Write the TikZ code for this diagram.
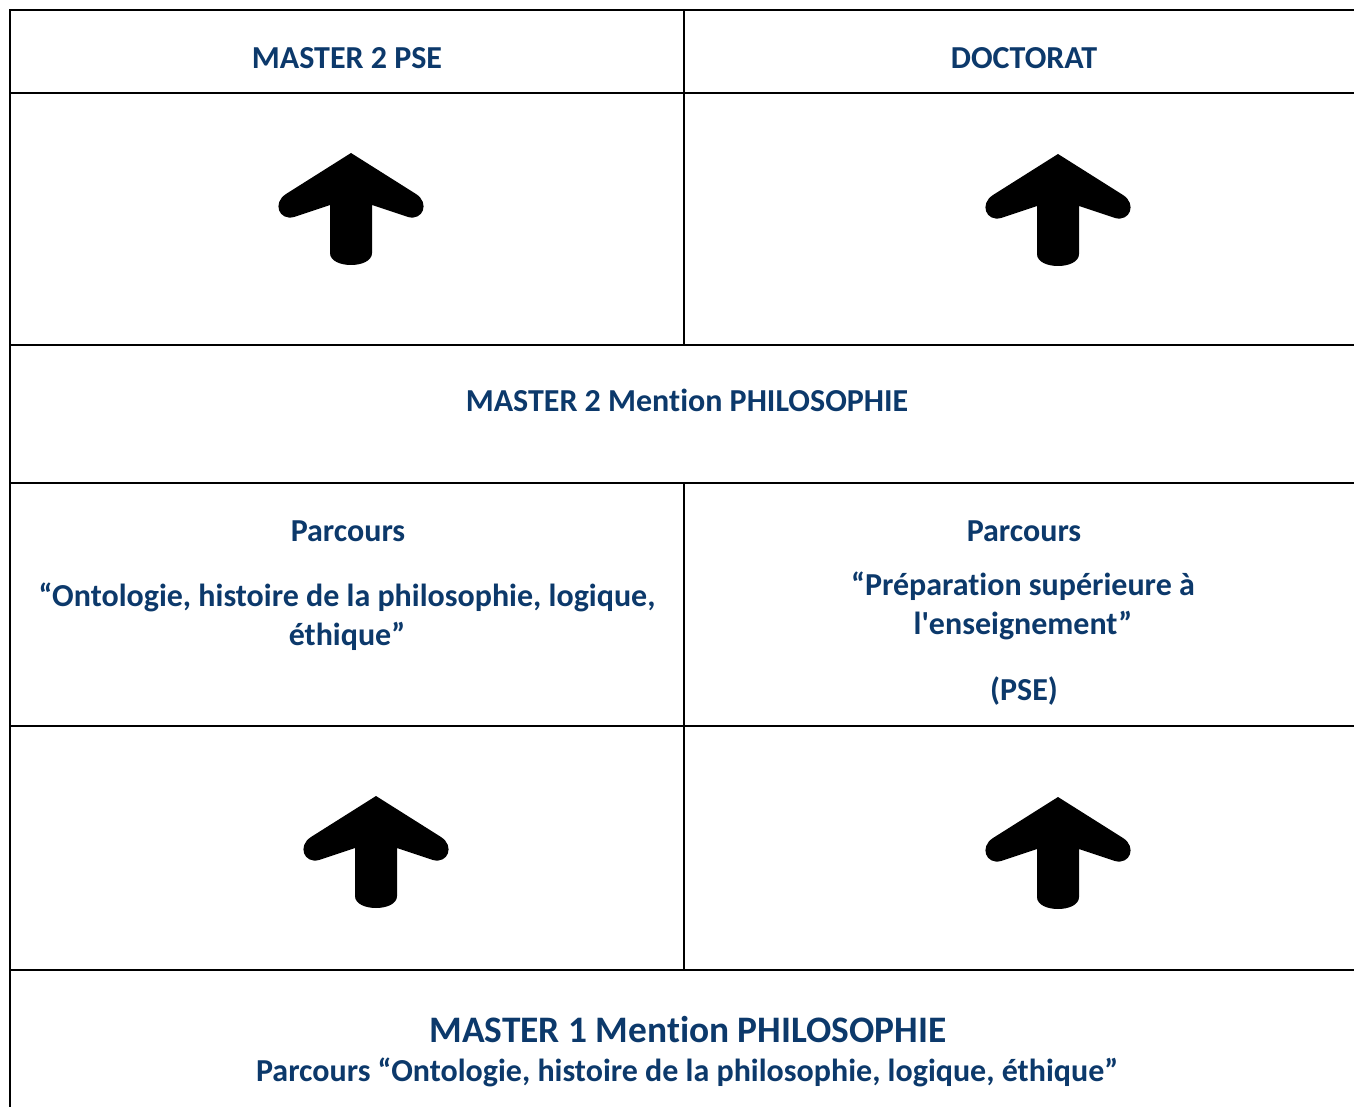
\documentclass[tikz,border=0pt]{standalone}
\usepackage{fontspec}
\setmainfont{Carlito}[Ligatures={NoCommon}]
\definecolor{navy}{HTML}{0C396B}
\newcommand{\straightquote}{\XeTeXglyph\XeTeXcharglyph"0027\relax}
\begin{document}
\begin{tikzpicture}[x=0.5pt,y=-0.5pt,
  grid/.style={line width=1pt,black},
  lbl/.style={text=navy,font=\fontsize{16}{19.5}\selectfont\bfseries,align=center,inner sep=0pt},
  biglbl/.style={text=navy,font=\fontsize{18.7}{21}\selectfont\bfseries,align=center,inner sep=0pt},
  uparrow/.pic={
    \fill[black] (0,0) -- (65,41) .. controls (79,50) and (72,68) .. (57,64) -- (21,52) -- (21,100)
      .. controls (21,116) and (-21,116) .. (-21,100) -- (-21,52) -- (-57,64)
      .. controls (-72,68) and (-79,50) .. (-65,41) -- cycle;
  }]
\useasboundingbox (0,0) rectangle (1354,1107);
\fill[white] (0,0) rectangle (1354,1107);
% grid
\foreach \yy in {10,93,345,483,726,970} \draw[grid] (9.5,\yy) -- (1354,\yy);
\draw[grid] (10,9.5) -- (10,1107);
\draw[grid] (684,10) -- (684,345);
\draw[grid] (684,483) -- (684,970);
% texts
\node[lbl] (m2pse) at (347,58) {MASTER 2 PSE};
\node[lbl] (doc) at (1024,58) {DOCTORAT};
\node[lbl] (m2phil) at (687,400) {MASTER 2 Mention PHILOSOPHIE};
\node[lbl] (parc1) at (348,531) {Parcours};
\node[lbl] (onto) at (347,616.5) {“Ontologie, histoire de la philosophie, logique,\\éthique”};
\node[lbl] (parc2) at (1024,531) {Parcours};
\node[lbl] (prep) at (1023,605.5) {“Préparation supérieure à\\l\straightquote enseignement”};
\node[lbl] (pse) at (1024,691) {(PSE)};
\node[biglbl] (m1) at (688,1030) {MASTER 1 Mention PHILOSOPHIE};
\node[lbl] (m1parc) at (687,1072) {Parcours “Ontologie, histoire de la philosophie, logique, éthique”};
% arrows
\pic at (351,153) {uparrow};
\pic at (1058,154) {uparrow};
\pic at (376,796) {uparrow};
\pic at (1058,797) {uparrow};
\end{tikzpicture}
\end{document}
